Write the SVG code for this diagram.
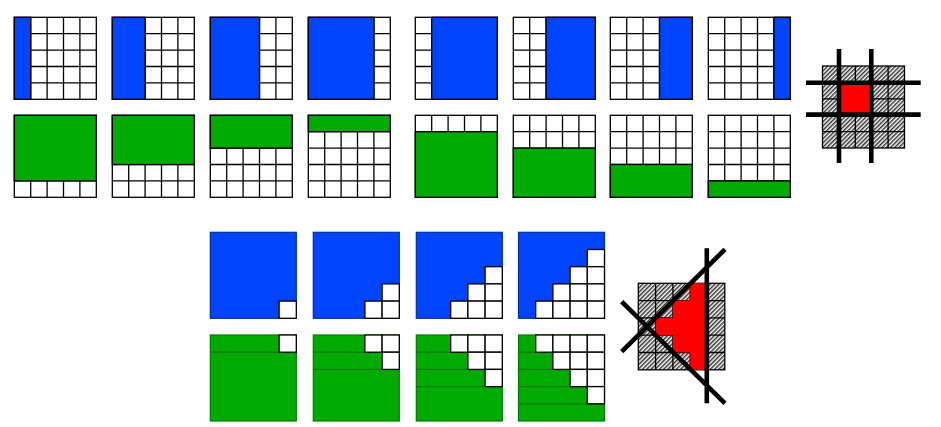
<svg xmlns="http://www.w3.org/2000/svg" xmlns:xlink="http://www.w3.org/1999/xlink" width="941" height="427" viewBox="0 0 941 427">
<style>
.ln{fill:none;stroke:#000;stroke-width:1.3}
.bl{fill:#0044ff;stroke:#000;stroke-width:1.3}
.gr{fill:#00aa00;stroke:#000;stroke-width:1.3}
.bl2{fill:#0044ff;stroke:#00309a;stroke-width:1.2}
.gr2{fill:#00aa00;stroke:#007a00;stroke-width:1.2}
.gl{fill:none;stroke:#007a00;stroke-width:1.2}
.wc{fill:#fff;stroke:#000;stroke-width:1.3}
.thick{stroke:#000;stroke-width:4.6;fill:none}
.red{fill:#ff0000}
</style>
<defs>
<pattern id="hatch" patternUnits="userSpaceOnUse" width="3" height="10" patternTransform="rotate(45)">
<rect width="3" height="10" fill="#fff"/>
<line x1="0.8" y1="0" x2="0.8" y2="10" stroke="#000" stroke-width="1.2"/>
</pattern>
<g id="g82">
<rect x="0" y="0" width="82" height="82" fill="#fff"/>
<path class="ln" d="M16.4 0V82M32.8 0V82M49.2 0V82M65.6 0V82M0 16.4H82M0 32.8H82M0 49.2H82M0 65.6H82"/>
<rect class="ln" x="0" y="0" width="82" height="82"/>
</g>
<g id="h82">
<rect x="0" y="0" width="82" height="82" fill="url(#hatch)"/>
<path class="ln" d="M16.4 0V82M32.8 0V82M49.2 0V82M65.6 0V82M0 16.4H82M0 32.8H82M0 49.2H82M0 65.6H82"/>
<rect class="ln" x="0" y="0" width="82" height="82"/>
</g>
<g id="h86">
<rect x="0" y="0" width="86.5" height="86.5" fill="url(#hatch)"/>
<path class="ln" d="M17.3 0V86.5M34.6 0V86.5M51.9 0V86.5M69.2 0V86.5M0 17.3H86.5M0 34.6H86.5M0 51.9H86.5M0 69.2H86.5"/>
<rect class="ln" x="0" y="0" width="86.5" height="86.5"/>
</g>
<rect id="wc" class="wc" x="0" y="0" width="17.2" height="17.2"/>
</defs>

<!-- Row 1: blue column sweeps -->
<g id="b1"><use xlink:href="#g82" x="14.3" y="17.3"/><rect class="bl" x="14.3" y="17.3" width="16.4" height="82"/></g>
<g id="b2"><use xlink:href="#g82" x="112.3" y="17.3"/><rect class="bl" x="112.3" y="17.3" width="32.8" height="82"/></g>
<g id="b3"><use xlink:href="#g82" x="210.3" y="17.3"/><rect class="bl" x="210.3" y="17.3" width="49.2" height="82"/></g>
<g id="b4"><use xlink:href="#g82" x="308.3" y="17.3"/><rect class="bl" x="308.3" y="17.3" width="65.6" height="82"/></g>
<g id="b5"><use xlink:href="#g82" x="415.3" y="17.3"/><rect class="bl" x="431.7" y="17.3" width="65.6" height="82"/></g>
<g id="b6"><use xlink:href="#g82" x="513.3" y="17.3"/><rect class="bl" x="546.1" y="17.3" width="49.2" height="82"/></g>
<g id="b7"><use xlink:href="#g82" x="610.3" y="17.3"/><rect class="bl" x="659.5" y="17.3" width="32.8" height="82"/></g>
<g id="b8"><use xlink:href="#g82" x="708.3" y="17.3"/><rect class="bl" x="773.9" y="17.3" width="16.4" height="82"/></g>

<!-- Row 2: green row sweeps -->
<g id="g1"><use xlink:href="#g82" x="14.3" y="115.3"/><rect class="gr" x="14.3" y="115.3" width="82" height="65.6"/></g>
<g id="g2"><use xlink:href="#g82" x="112.3" y="115.3"/><rect class="gr" x="112.3" y="115.3" width="82" height="49.2"/></g>
<g id="g3"><use xlink:href="#g82" x="210.3" y="115.3"/><rect class="gr" x="210.3" y="115.3" width="82" height="32.8"/></g>
<g id="g4"><use xlink:href="#g82" x="308.3" y="115.3"/><rect class="gr" x="308.3" y="115.3" width="82" height="16.4"/></g>
<g id="g5"><use xlink:href="#g82" x="415.3" y="115.3"/><rect class="gr" x="415.3" y="131.7" width="82" height="65.6"/></g>
<g id="g6"><use xlink:href="#g82" x="513.3" y="115.3"/><rect class="gr" x="513.3" y="148.1" width="82" height="49.2"/></g>
<g id="g7"><use xlink:href="#g82" x="610.3" y="115.3"/><rect class="gr" x="610.3" y="164.5" width="82" height="32.8"/></g>
<g id="g8"><use xlink:href="#g82" x="708.3" y="115.3"/><rect class="gr" x="708.3" y="180.9" width="82" height="16.4"/></g>

<!-- Top-right hatched cross figure -->
<g id="cross">
<use xlink:href="#h82" x="822.5" y="66"/>
<rect class="red" x="838.9" y="82.4" width="32.8" height="32.8"/>
<path class="thick" d="M839 49V163M871.3 49V163M806 82.7H920.7M806 114.6H920.7"/>
</g>

<!-- Bottom row 1: blue diagonal -->
<g id="d1"><rect class="bl2" x="210.3" y="232.3" width="86" height="86"/>
<use xlink:href="#wc" x="279.1" y="301.1"/></g>
<g id="d2"><rect class="bl2" x="313.3" y="232.3" width="86" height="86"/>
<use xlink:href="#wc" x="382.1" y="283.9"/><use xlink:href="#wc" x="364.9" y="301.1"/><use xlink:href="#wc" x="382.1" y="301.1"/></g>
<g id="d3"><rect class="bl2" x="416.3" y="232.3" width="86" height="86"/>
<use xlink:href="#wc" x="485.1" y="266.7"/>
<use xlink:href="#wc" x="467.9" y="283.9"/><use xlink:href="#wc" x="485.1" y="283.9"/>
<use xlink:href="#wc" x="450.7" y="301.1"/><use xlink:href="#wc" x="467.9" y="301.1"/><use xlink:href="#wc" x="485.1" y="301.1"/></g>
<g id="d4"><rect class="bl2" x="518.5" y="232.3" width="86" height="86"/>
<use xlink:href="#wc" x="587.3" y="249.5"/>
<use xlink:href="#wc" x="570.1" y="266.7"/><use xlink:href="#wc" x="587.3" y="266.7"/>
<use xlink:href="#wc" x="552.9" y="283.9"/><use xlink:href="#wc" x="570.1" y="283.9"/><use xlink:href="#wc" x="587.3" y="283.9"/>
<use xlink:href="#wc" x="535.7" y="301.1"/><use xlink:href="#wc" x="552.9" y="301.1"/><use xlink:href="#wc" x="570.1" y="301.1"/><use xlink:href="#wc" x="587.3" y="301.1"/></g>

<!-- Bottom row 2: green diagonal -->
<g id="e1"><rect class="gr2" x="210.3" y="335" width="86" height="86"/>
<path class="gl" d="M210.3 352.2H296.3"/>
<use xlink:href="#wc" x="279.1" y="335"/></g>
<g id="e2"><rect class="gr2" x="313.3" y="335" width="86" height="86"/>
<path class="gl" d="M313.3 352.2H399.3M313.3 369.4H399.3"/>
<use xlink:href="#wc" x="364.9" y="335"/><use xlink:href="#wc" x="382.1" y="335"/><use xlink:href="#wc" x="382.1" y="352.2"/></g>
<g id="e3"><rect class="gr2" x="416.3" y="335" width="86" height="86"/>
<path class="gl" d="M416.3 352.2H502.3M416.3 369.4H502.3M416.3 386.6H502.3"/>
<use xlink:href="#wc" x="450.7" y="335"/><use xlink:href="#wc" x="467.9" y="335"/><use xlink:href="#wc" x="485.1" y="335"/>
<use xlink:href="#wc" x="467.9" y="352.2"/><use xlink:href="#wc" x="485.1" y="352.2"/>
<use xlink:href="#wc" x="485.1" y="369.4"/></g>
<g id="e4"><rect class="gr2" x="518.5" y="335" width="86" height="86"/>
<path class="gl" d="M518.5 352.2H604.5M518.5 369.4H604.5M518.5 386.6H604.5M518.5 403.8H604.5"/>
<use xlink:href="#wc" x="535.7" y="335"/><use xlink:href="#wc" x="552.9" y="335"/><use xlink:href="#wc" x="570.1" y="335"/><use xlink:href="#wc" x="587.3" y="335"/>
<use xlink:href="#wc" x="552.9" y="352.2"/><use xlink:href="#wc" x="570.1" y="352.2"/><use xlink:href="#wc" x="587.3" y="352.2"/>
<use xlink:href="#wc" x="570.1" y="369.4"/><use xlink:href="#wc" x="587.3" y="369.4"/>
<use xlink:href="#wc" x="587.3" y="386.6"/></g>

<!-- Bottom-right hatched wedge figure -->
<g id="wedge">
<use xlink:href="#h86" x="638.3" y="283.3"/>
<path class="red" d="M690.2 283.3H707.5V369.8H690.2V352.5H672.9V335.2H655.6V317.9H672.9V300.6H690.2Z"/>
<path class="thick" d="M706.8 248.3V403.3M621.7 351.7L725 249.3M621.7 301.7L725 403.3"/>
</g>
</svg>
